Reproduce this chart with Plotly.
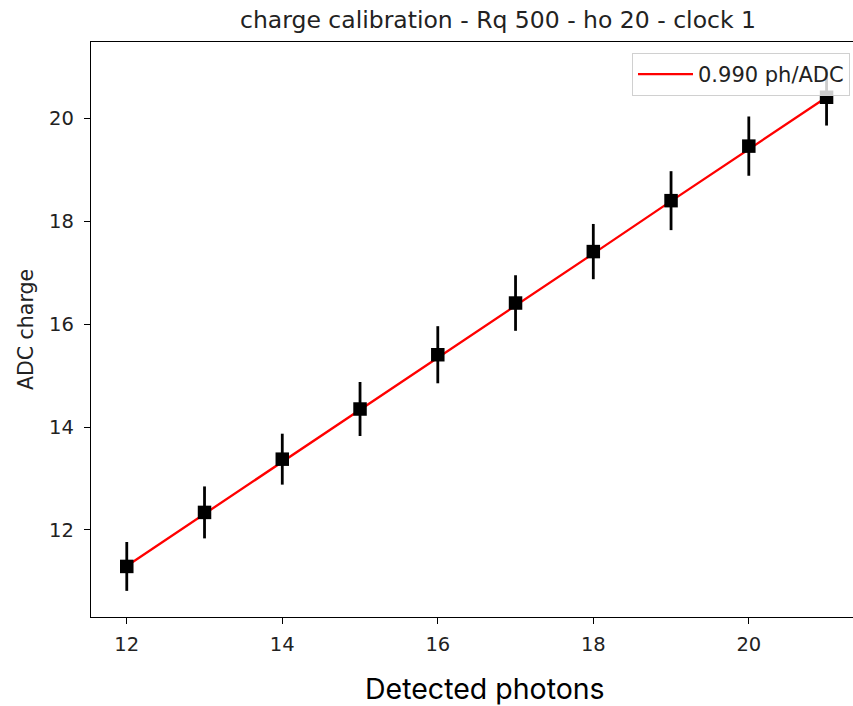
import plotly.graph_objects as go

photons = [12, 13, 14, 15, 16, 17, 18, 19, 20, 21]
adc_charge = [11.29, 12.34, 13.375, 14.35, 15.405, 16.41, 17.41, 18.40, 19.46, 20.41]
adc_err = [0.475, 0.505, 0.495, 0.525, 0.555, 0.54, 0.537, 0.573, 0.576, 0.55]
fit_charge = [11.30, 12.31, 13.32, 14.34, 15.35, 16.36, 17.37, 18.39, 19.40, 20.41]
fit_label = "0.990 ph/ADC"
x_ticks = [12, 14, 16, 18, 20]
y_ticks = [12, 14, 16, 18, 20]

L, R, T, B = 91, 853, 42, 617
W, H = 853, 706

fig = go.Figure()
fig.add_trace(go.Scatter(
    x=photons, y=fit_charge, mode="lines", name=fit_label,
    line=dict(color="#ff0000", width=2.3), showlegend=True,
))
fig.add_trace(go.Scatter(
    x=photons, y=adc_charge, mode="markers", showlegend=False,
    marker=dict(symbol="square", size=13.5, color="black"),
    error_y=dict(type="data", array=adc_err, visible=True, color="black",
                 thickness=2.8, width=0),
))

fig.update_layout(
    width=W, height=H,
    margin=dict(l=L, r=W - R, t=T, b=H - B),
    paper_bgcolor="white", plot_bgcolor="white",
    font=dict(family="DejaVu Sans", size=20, color="#222222"),
    title=dict(text="charge calibration - Rq 500 - ho 20 - clock 1",
               x=498 / W, xanchor="center", y=1 - 20 / H, yanchor="middle",
               font=dict(family="DejaVu Sans", size=23.5, color="#222222")),
    showlegend=True,
    legend=dict(x=(850 - L) / (R - L), xanchor="right",
                y=(B - 53) / (B - T), yanchor="top",
                bgcolor="rgba(255,255,255,0.8)", bordercolor="#d0d0d0", borderwidth=1,
                itemwidth=55,
                font=dict(family="DejaVu Sans", size=21, color="#222222")),
)

fig.update_xaxes(
    range=[11.54, 21.34], tickvals=x_ticks, ticktext=[str(v) for v in x_ticks],
    showgrid=False, zeroline=False, showline=True, linecolor="black", linewidth=1.4,
    mirror=True, ticks="outside", ticklen=6, tickwidth=1.3, tickcolor="black",
    tickfont=dict(size=19.5, color="#222222"), ticklabelstandoff=3,
)
fig.update_yaxes(
    range=[10.307, 21.484], tickvals=y_ticks, ticktext=[str(v) for v in y_ticks],
    showgrid=False, zeroline=False, showline=True, linecolor="black", linewidth=1.4,
    mirror=False, ticks="outside", ticklen=6, tickwidth=1.3, tickcolor="black",
    tickfont=dict(size=19.5, color="#222222"), ticklabelstandoff=6,
    title=dict(text="ADC charge", font=dict(size=20.5, color="#222222"), standoff=9),
)

fig.add_annotation(
    text="Detected photons", xref="paper", yref="paper",
    x=(485 - L) / (R - L), y=-(689 - B) / (B - T),
    showarrow=False, xanchor="center", yanchor="middle",
    font=dict(family="Inter", size=28.5, color="black"),
)

fig.write_html("out.html")
